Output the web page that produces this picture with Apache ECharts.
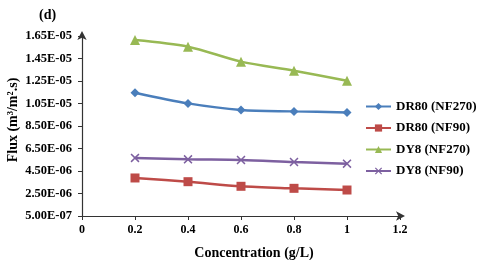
<!DOCTYPE html>
<html><head><meta charset="utf-8">
<script src="https://cdn.jsdelivr.net/npm/echarts@6/dist/echarts.min.js"></script>
<style>html,body{margin:0;padding:0;background:#fff}#c{width:480px;height:260px}</style>
</head><body><div id="c"></div>
<script>
const concentrations = [0.2, 0.4, 0.6, 0.8, 1.0];
const dr80NF270 = [1.146e-5, 1.051e-5, 9.92e-6, 9.80e-6, 9.71e-6];
const dr80NF90 = [3.88e-6, 3.55e-6, 3.14e-6, 2.96e-6, 2.81e-6];
const dy8NF270 = [1.614e-5, 1.555e-5, 1.422e-5, 1.342e-5, 1.253e-5];
const dy8NF90 = [5.66e-6, 5.54e-6, 5.48e-6, 5.30e-6, 5.15e-6];
const yTickLabels = ['5.00E-07','2.50E-06','4.50E-06','6.50E-06','8.50E-06','1.05E-05','1.25E-05','1.45E-05','1.65E-05'];
const xTickLabels = ['0','0.2','0.4','0.6','0.8','1','1.2'];
const seriesNames = ['DR80 (NF270)','DR80 (NF90)','DY8 (NF270)','DY8 (NF90)'];

const font = 'Liberation Serif';
const pair = arr => concentrations.map((c, i) => [c, arr[i]]);
const xShape = 'path://M0,1.2L1.2,0L5,3.8L8.8,0L10,1.2L6.2,5L10,8.8L8.8,10L5,6.2L1.2,10L0,8.8L3.8,5Z';
const specs = [
  {data: dr80NF270, color: '#4a7ebb', symbol: 'diamond', size: 9},
  {data: dr80NF90, color: '#be4b48', symbol: 'rect', size: 9},
  {data: dy8NF270, color: '#98b954', symbol: 'triangle', size: 10},
  {data: dy8NF90, color: '#7d60a0', symbol: xShape, size: 9}
];
const chart = echarts.init(document.getElementById('c'), null, {renderer: 'canvas'});
chart.setOption({
  animation: false,
  textStyle: {fontFamily: font},
  title: {text: '(d)', left: 34, top: 3, textStyle: {fontFamily: font, fontSize: 14, fontWeight: 'bold', color: '#000'}},
  grid: {left: 82, right: 80, top: 36, bottom: 44, containLabel: false, outerBoundsMode: 'none'},
  legend: {
    orient: 'vertical', left: 360, top: 95, itemGap: 8.5, itemWidth: 25, itemHeight: 9,
    textStyle: {fontFamily: font, fontSize: 13, fontWeight: 'bold', color: '#000'},
    data: seriesNames
  },
  xAxis: {
    type: 'value', min: 0, max: 1.2, interval: 0.2,
    name: 'Concentration (g/L)', nameLocation: 'middle', nameGap: 30,
    nameTextStyle: {fontFamily: font, fontSize: 14, fontWeight: 'bold', color: '#000', padding: [0, 0, 0, 26]},
    axisLine: {show: true, symbol: ['none', 'arrow'], symbolSize: [7, 9], symbolOffset: [0, 5], lineStyle: {color: '#333', width: 1.2}},
    axisTick: {show: true, length: 4, lineStyle: {color: '#333'}},
    axisLabel: {fontFamily: font, fontSize: 12, fontWeight: 'bold', color: '#000', margin: 8,
      formatter: (v, i) => xTickLabels[i] !== undefined ? xTickLabels[i] : v},
    splitLine: {show: false}
  },
  yAxis: {
    type: 'value', min: 5e-7, max: 1.65e-5, interval: 2e-6,
    name: 'Flux (m³/m².s)', nameLocation: 'middle', nameGap: 62, nameRotate: 90, nameMoveOverlap: false,
    nameTextStyle: {fontFamily: font, fontSize: 14, fontWeight: 'bold', color: '#000', padding: [0, 0, 0, 12]},
    axisLine: {show: true, symbol: ['none', 'arrow'], symbolSize: [7, 9], symbolOffset: [0, 5], lineStyle: {color: '#333', width: 1.2}},
    axisTick: {show: true, length: 4, lineStyle: {color: '#333'}},
    axisLabel: {fontFamily: font, fontSize: 12.5, fontWeight: 'bold', color: '#000', margin: 10,
      formatter: (v, i) => yTickLabels[i] !== undefined ? yTickLabels[i] : v},
    splitLine: {show: false}
  },
  series: specs.map((s, k) => ({
    name: seriesNames[k], type: 'line', data: pair(s.data), smooth: 0.3,
    symbol: s.symbol, symbolSize: s.size, showSymbol: true,
    itemStyle: {color: s.color},
    lineStyle: {color: s.color, width: 2.5}
  }))
});
</script></body></html>
